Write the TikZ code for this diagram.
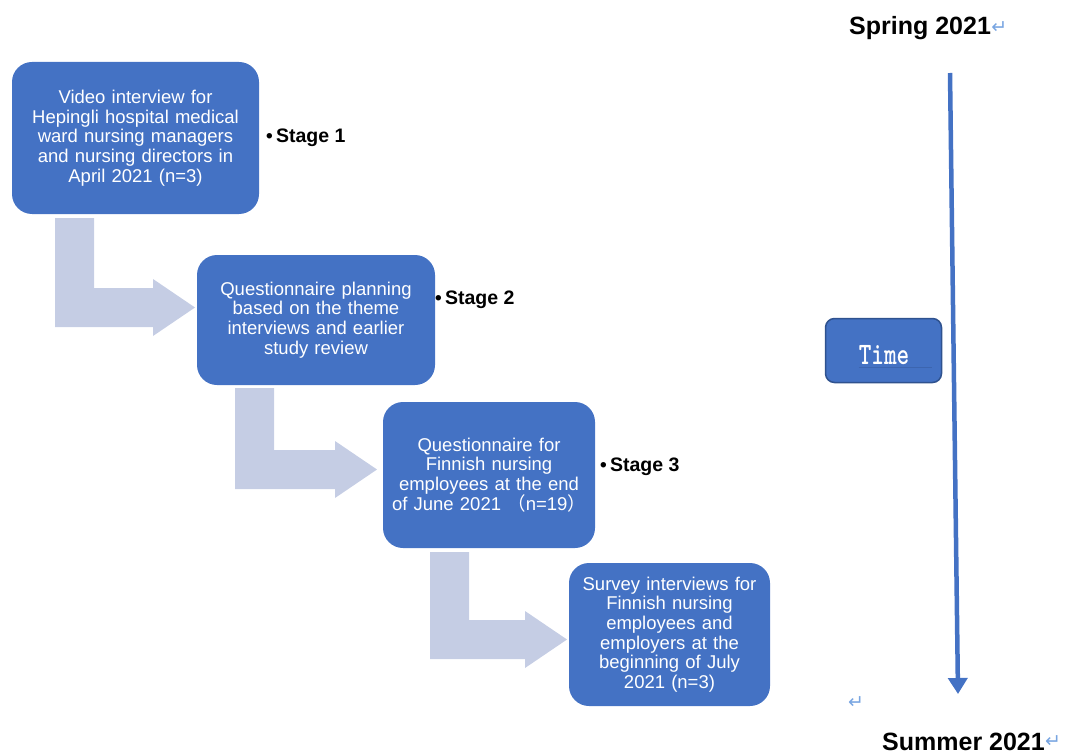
\documentclass[tikz,border=0pt]{standalone}
\usepackage{fontspec}
\setmainfont{Liberation Sans}
\newfontfamily\cjk{Noto Sans CJK SC}
\newfontfamily\symfont{DejaVu Sans}
\usetikzlibrary{arrows.meta}

\definecolor{officeblue}{RGB}{68,114,196}
\definecolor{boxedge}{RGB}{47,82,143}
\definecolor{paleblue}{RGB}{197,205,228}
\definecolor{markblue}{RGB}{120,165,225}

\tikzset{
  stagebox/.style={rounded corners=20pt, fill=officeblue, text=white, align=center,
    font=\fontsize{18.5}{19.7}\selectfont, inner sep=0pt},
  stagelabel/.style={anchor=west, font=\fontsize{19.5}{20}\selectfont\bfseries, inner sep=0pt},
  season/.style={font=\fontsize{25}{28}\selectfont\bfseries, inner sep=0pt},
  retmark/.style={text=markblue, font=\symfont\fontsize{19}{20}\selectfont, inner sep=0pt},
  bentfill/.style={fill=paleblue, draw=none},
  timeline/.style={draw=officeblue, line width=4.5pt, -{Triangle[width=19pt,length=16pt]}}
}

% bent arrow: left x, top y, top of horizontal bar, tip x
\newcommand{\bentarrow}[4]{%
  \fill[bentfill] (#1,#2) -- ({#1+39},#2) -- ({#1+39},#3) -- ({#4-42},#3)
    -- ({#4-42},{#3-9}) -- (#4,{#3+19.5}) -- ({#4-42},{#3+48})
    -- ({#4-42},{#3+39}) -- (#1,{#3+39}) -- cycle;}
\newcommand{\stagedot}{{\fontsize{19}{20}\selectfont\textbullet}}

\begin{document}
\begin{tikzpicture}[x=1pt,y=-1pt]
  \useasboundingbox (0,0) rectangle (1081,754);

  % light bent arrows between the stages
  \bentarrow{55}{218}{288}{195}
  \bentarrow{235}{388}{450}{377}
  \bentarrow{430}{552}{620}{567}

  % stage boxes
  \node[stagebox, minimum width=247pt, minimum height=152pt, text width=230pt] (interview) at (135.5,138)
    {Video interview for\\Hepingli hospital medical\\ward nursing managers\\and nursing directors in\\April 2021 (n=3)};
  \node[stagebox, minimum width=238pt, minimum height=130pt, text width=222pt] (planning) at (316,320)
    {Questionnaire planning\\based on the theme\\interviews and earlier\\study review};
  \node[stagebox, minimum width=212pt, minimum height=146pt, text width=200pt] (questionnaire) at (489,475)
    {Questionnaire for\\Finnish nursing\\employees at the end\\of June 2021 {\cjk （}n=19{\cjk ）}};
  \node[stagebox, minimum width=201pt, minimum height=143pt, text width=190pt] (survey) at (669.5,634.5)
    {Survey interviews for\\Finnish nursing\\employees and\\employers at the\\beginning of July\\2021 (n=3)};

  % stage labels
  \node[stagelabel] (stage1) at (266,138) {\stagedot\,Stage 1};
  \node[stagelabel] (stage2) at (435,300) {\stagedot\,Stage 2};
  \node[stagelabel] (stage3) at (600,467) {\stagedot\,Stage 3};

  % time axis
  \node[season, anchor=west] (spring) at (849,28) {Spring 2021};
  \node[retmark, anchor=west] (ret1) at (spring.east) {↵};
  \node[season, anchor=west] (summer) at (882,742) {Summer 2021};
  \node[retmark, anchor=west] (ret2) at (summer.east) {↵};
  \node[retmark] (ret3) at (856,703) {↵};

  \coordinate (ttop) at (950,73);
  \coordinate (tbottom) at (958,694);
  \draw[timeline] (ttop) -- (tbottom);

  \node[rounded corners=9pt, fill=officeblue, draw=boxedge, line width=1.5pt,
    minimum width=116pt, minimum height=64pt] (timebox) at (883.5,350.5) {};
  \node[text=white, font=\ttfamily\bfseries\fontsize{24}{24}\selectfont, inner sep=0pt] (timetxt) at (884,355)
    {\scalebox{1}[1.3]{Time}};
  \draw[officeblue!60!boxedge, line width=0.8pt] (timetxt.south west) ++(0,3) -- ++(73,0);
\end{tikzpicture}
\end{document}
